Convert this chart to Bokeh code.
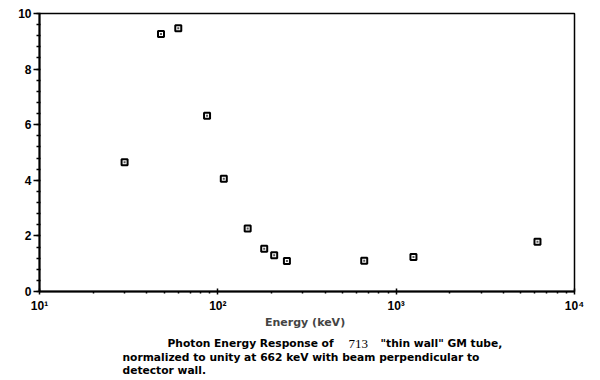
from bokeh.plotting import figure
from bokeh.layouts import column
from bokeh.models import (ColumnDataSource, FixedTicker, SingleIntervalTicker, Label, Range1d)
from bokeh.embed import file_html
from bokeh.resources import INLINE

# Data
energy_kev = [30, 48, 60, 87, 108, 147, 182, 207, 244, 662, 1250, 6200]
response = [4.65, 9.26, 9.47, 6.32, 4.06, 2.27, 1.54, 1.30, 1.10, 1.11, 1.24, 1.79]

x_ticks = [10, 100, 1000, 10000]
x_tick_labels = ["10\u00b9", "10\u00b2", "10\u00b3", "10\u2074"]

caption_1a = "Photon Energy   Response of"
caption_1b = "713"
caption_1c = "\"thin wall\" GM tube,"
caption_2 = "normalized to unity at 662 keV with beam perpendicular to"
caption_3 = "detector  wall."

FONT = "Liberation Sans"
CAP_FONT = "DejaVu Sans"

src = ColumnDataSource(dict(x=energy_kev, y=response))

p = figure(width=600, height=333, x_axis_type="log",
           x_range=Range1d(10, 10000), y_range=Range1d(0, 10),
           output_backend="svg", toolbar_location=None,
           min_border_left=39, min_border_right=26, min_border_top=13, min_border_bottom=42)

p.grid.visible = False
p.outline_line_color = "black"
p.outline_line_width = 1.5
p.background_fill_color = "white"
p.border_fill_color = "white"

p.scatter("x", "y", source=src, marker="square", size=6, fill_color="white",
          line_color="black", line_width=2)
p.scatter("x", "y", source=src, marker="square", size=2, fill_color="#555555",
          line_color=None)

minor = [m * d for d in [10, 100, 1000] for m in range(2, 10)]
p.xaxis.ticker = FixedTicker(ticks=x_ticks, minor_ticks=minor)
p.xaxis.major_label_overrides = {t: l for t, l in zip(x_ticks, x_tick_labels)}
p.yaxis.ticker = SingleIntervalTicker(interval=2, num_minor_ticks=5)

for ax in (p.xaxis[0], p.yaxis[0]):
    ax.axis_line_width = 2
    ax.axis_line_color = "black"
    ax.major_tick_line_color = "black"
    ax.minor_tick_line_color = "black"
    ax.major_tick_line_width = 1.5
    ax.minor_tick_line_width = 1.5
    ax.major_label_text_font = FONT
    ax.major_label_text_font_style = "bold"
    ax.major_label_text_font_size = "12px"
    ax.major_label_text_color = "black"

p.yaxis.major_tick_out = 6
p.yaxis.major_tick_in = 0
p.yaxis.minor_tick_out = 3
p.yaxis.minor_tick_in = 1
p.yaxis.major_label_standoff = 2

p.xaxis.major_tick_out = 3
p.xaxis.major_tick_in = 3
p.xaxis.minor_tick_out = 2
p.xaxis.minor_tick_in = 0
p.xaxis.major_label_standoff = 4

p.xaxis.axis_label = "Energy  (keV)"
p.xaxis.axis_label_text_font = CAP_FONT
p.xaxis.axis_label_text_font_style = "bold"
p.xaxis.axis_label_text_font_size = "11px"
p.xaxis.axis_label_standoff = 0

# caption panel: a second, axis-less figure underneath (its frame aligns with the plot frame)
cap = figure(width=600, height=47, x_range=Range1d(0, 535), y_range=Range1d(0, 47),
             output_backend="svg", toolbar_location=None,
             x_axis_location=None, y_axis_location=None, min_border=0)
cap.grid.visible = False
cap.outline_line_color = None
cap.background_fill_color = "white"
cap.border_fill_color = "white"

cap_style = dict(x_units="screen", y_units="screen", text_font=CAP_FONT,
                 text_font_style="bold", text_font_size="10.7px",
                 text_align="left", text_baseline="middle", text_color="black")

cap.add_layout(Label(x=128, y=37, text=caption_1a, **cap_style))
cap.add_layout(Label(x=309, y=37, text=caption_1b, x_units="screen", y_units="screen",
                     text_font="Liberation Serif", text_font_size="13px",
                     text_align="left", text_baseline="middle", text_color="black"))
cap.add_layout(Label(x=341, y=37, text=caption_1c, **cap_style))
cap.add_layout(Label(x=83, y=23, text=caption_2, **cap_style))
cap.add_layout(Label(x=83, y=10, text=caption_3, **cap_style))

layout = column(p, cap, spacing=0)
open("out.html", "w").write(file_html(layout, INLINE))
